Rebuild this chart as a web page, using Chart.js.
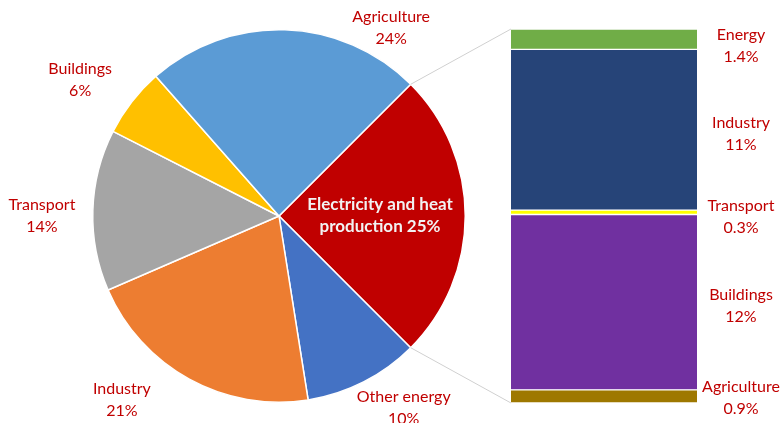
<!DOCTYPE html>
<html>
<head>
<meta charset="utf-8">
<script src="https://cdn.jsdelivr.net/npm/chart.js@4.4.0/dist/chart.umd.min.js"></script>
<style>
  html, body { margin: 0; padding: 0; background: #fff; }
  #wrap { position: relative; width: 782px; height: 423px; }
  #wrap canvas { position: absolute; left: 0; top: 0; }
</style>
</head>
<body>
<div id="wrap">
  <canvas id="pie" width="782" height="423"></canvas>
  <canvas id="bar" width="782" height="423"></canvas>
</div>
<script>
// pie: share of emissions by sector
const pieLabels = ["Electricity and heat production", "Other energy", "Industry", "Transport", "Buildings", "Agriculture"];
const pieValues = [25, 10, 21, 14, 6, 24];
const pieColors = ["#C00000", "#4472C4", "#ED7D31", "#A5A5A5", "#FFC000", "#5B9BD5"];

// bar: where electricity & heat goes (bottom to top)
const barLabels = ["Agriculture", "Buildings", "Transport", "Industry", "Energy"];
const barValues = [0.9, 12, 0.3, 11, 1.4];
const barColors = ["#9E7800", "#7030A0", "#FFFF00", "#264478", "#70AD47"];

const FONT = "Lato, 'Open Sans', sans-serif";
const RED = "#C00000";

// label spots for the pie, as angle (deg, screen, from east) and distance from center
const pieLabelPos = [
  { ang: 0, dist: 101 },
  { ang: 57, dist: 229 },
  { ang: 130.5, dist: 242 },
  { ang: 180, dist: 237 },
  { ang: -145.6, dist: 241 },
  { ang: -59.2, dist: 219 }
];

function pct(v) { return v + "%"; }

const pieLabelPlugin = {
  id: "pieLabels",
  afterDatasetsDraw(chart) {
    const ctx = chart.ctx;
    const arcs = chart.getDatasetMeta(0).data;
    const cx = arcs[0].x, cy = arcs[0].y;
    ctx.save();
    ctx.textAlign = "center";
    ctx.textBaseline = "middle";
    arcs.forEach((a, i) => {
      const p = pieLabelPos[i];
      const x = cx + p.dist * Math.cos(p.ang * Math.PI / 180);
      const y = cy + p.dist * Math.sin(p.ang * Math.PI / 180);
      if (i === 0) {
        ctx.fillStyle = "#F2F2F2";
        ctx.font = "bold 17px " + FONT;
        ctx.fillText("Electricity and heat", x, y - 11);
        ctx.fillText("production " + pct(pieValues[i]), x, y + 11);
      } else {
        ctx.fillStyle = RED;
        ctx.font = "16px " + FONT;
        ctx.fillText(pieLabels[i], x, y - 11);
        ctx.fillText(pct(pieValues[i]), x, y + 11);
      }
    });
    ctx.restore();
  }
};

const pieChart = new Chart(document.getElementById("pie"), {
  type: "pie",
  data: {
    labels: pieLabels,
    datasets: [{
      data: pieValues,
      backgroundColor: pieColors,
      borderColor: "#fff",
      borderWidth: 1.5
    }]
  },
  options: {
    responsive: false,
    animation: false,
    rotation: 45,
    layout: { padding: { left: 92, right: 316, top: 29, bottom: 20 } },
    plugins: { legend: { display: false }, tooltip: { enabled: false } }
  },
  plugins: [pieLabelPlugin]
});

// connector lines + bar labels
const barExtras = {
  id: "barExtras",
  afterDatasetsDraw(chart) {
    const ctx = chart.ctx;
    const arc = pieChart.getDatasetMeta(0).data[0];
    const a0 = arc.startAngle, a1 = arc.endAngle, r = arc.outerRadius;
    const top = chart.getDatasetMeta(barValues.length - 1).data[0];
    const bot = chart.getDatasetMeta(0).data[0];
    const left = top.x - top.width / 2;
    ctx.save();
    ctx.strokeStyle = "#D0D0D0";
    ctx.lineWidth = 1;
    ctx.beginPath();
    ctx.moveTo(arc.x + r * Math.cos(a0), arc.y + r * Math.sin(a0));
    ctx.lineTo(left, top.y);
    ctx.moveTo(arc.x + r * Math.cos(a1), arc.y + r * Math.sin(a1));
    ctx.lineTo(left, bot.base);
    ctx.stroke();

    ctx.fillStyle = RED;
    ctx.font = "16px " + FONT;
    ctx.textAlign = "center";
    ctx.textBaseline = "middle";
    const right = top.x + top.width / 2;
    barLabels.forEach((lab, i) => {
      const b = chart.getDatasetMeta(i).data[0];
      let yc = (b.y + b.base) / 2 + 4;
      yc = Math.max(yc, chart.chartArea.top + 17);
      yc = Math.min(yc, chart.chartArea.bottom - 5);
      const x = right + 44;
      ctx.fillText(lab, x, yc - 11);
      ctx.fillText(pct(barValues[i]), x, yc + 11);
    });
    ctx.restore();
  }
};

new Chart(document.getElementById("bar"), {
  type: "bar",
  data: {
    labels: [""],
    datasets: barLabels.map((lab, i) => ({
      label: lab,
      data: [barValues[i]],
      backgroundColor: barColors[i],
      borderColor: "#fff",
      borderWidth: { top: 1, bottom: 1, left: 0, right: 0 },
      borderSkipped: false,
      barPercentage: 1,
      categoryPercentage: 1
    }))
  },
  options: {
    responsive: false,
    animation: false,
    layout: { padding: { left: 511, right: 85, top: 29, bottom: 20 } },
    scales: {
      x: { stacked: true, display: false },
      y: { stacked: true, display: false, min: 0, max: barValues.reduce((s, v) => s + v, 0) }
    },
    plugins: { legend: { display: false }, tooltip: { enabled: false } }
  },
  plugins: [barExtras]
});
</script>
</body>
</html>
